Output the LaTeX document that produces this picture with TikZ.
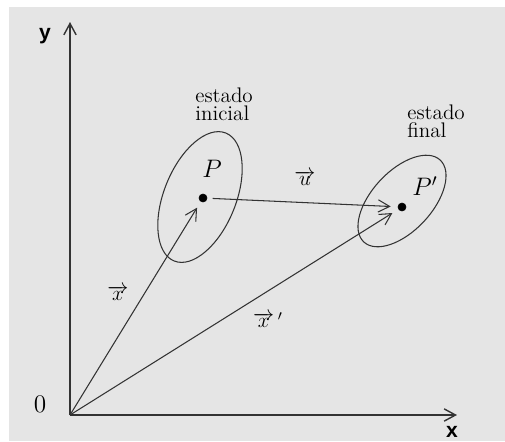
\documentclass[tikz,border=0pt]{standalone}
\usepackage{fontspec}
\newfontfamily\axisfont{Liberation Sans}
\usetikzlibrary{arrows.meta,shapes.geometric}

\newcommand*{\xmin}{70}
\newcommand*{\xmax}{457}
\newcommand*{\ymin}{415}
\newcommand*{\ymax}{22}

\begin{document}
\begin{tikzpicture}
[
	x=0.02cm, y=-0.02cm,
	>={Straight Barb[length=6.5pt,width=7pt]},
	closedpt/.style={circle,draw,fill,inner sep=0pt,minimum size=4.5pt},
	region/.style={ellipse,draw=black!80,semithick,inner sep=0pt},
	vecline/.style={->,draw=black!80,semithick,shorten >=4pt},
	caption/.style={align=left,anchor=west,font=\large,inner sep=0pt},
	axislabel/.style={font=\axisfont\bfseries\large}
]

	\useasboundingbox (0,0) rectangle (505,441);
	\fill[black!10] (9,7) rectangle (505,441);

	% axes
	\coordinate (O) at (\xmin,\ymin);
	\coordinate (xend) at (\xmax,\ymin);
	\coordinate (yend) at (\xmin,\ymax);
	\draw[->,draw=black!80,thick] (O) -- (xend);
	\draw[->,draw=black!80,thick] (O) -- (yend);
	\node[axislabel] (xlbl) at (452,432) {x};
	\node[axislabel] (ylbl) at (45,36) {y};
	\node[font=\Large] (zero) at (40,404) {0};

	% states
	\node[region,minimum width=2.76cm,minimum height=1.44cm,rotate=68] (inicial) at (200,197) {};
	\node[region,minimum width=2.24cm,minimum height=1.2cm,rotate=47] (final) at (402,201) {};
	\node[caption] (inilbl) at (195,104) {estado\\[-4pt]inicial};
	\node[caption] (finlbl) at (407,121) {estado\\[-4pt]final};

	\node[closedpt] (P) at (203,198) {};
	\node[closedpt] (Pp) at (402,207) {};
	\node[font=\Large] (Plbl) at (212,169) {$P$};
	\node[font=\Large] (Pplbl) at (425,186) {$P'$};

	% vectors
	\draw[vecline] (O) -- (P);
	\draw[vecline] (O) -- (Pp);
	\draw[vecline,shorten <=3pt] (P) -- (Pp);
	\node[font=\large] (xvec) at (118,293) {$\overrightarrow{x}$};
	\node[font=\large] (xpvec) at (268,320) {$\overrightarrow{x}\,'$};
	\node[font=\large] (uvec) at (305,178) {$\overrightarrow{u}$};

\end{tikzpicture}
\end{document}
